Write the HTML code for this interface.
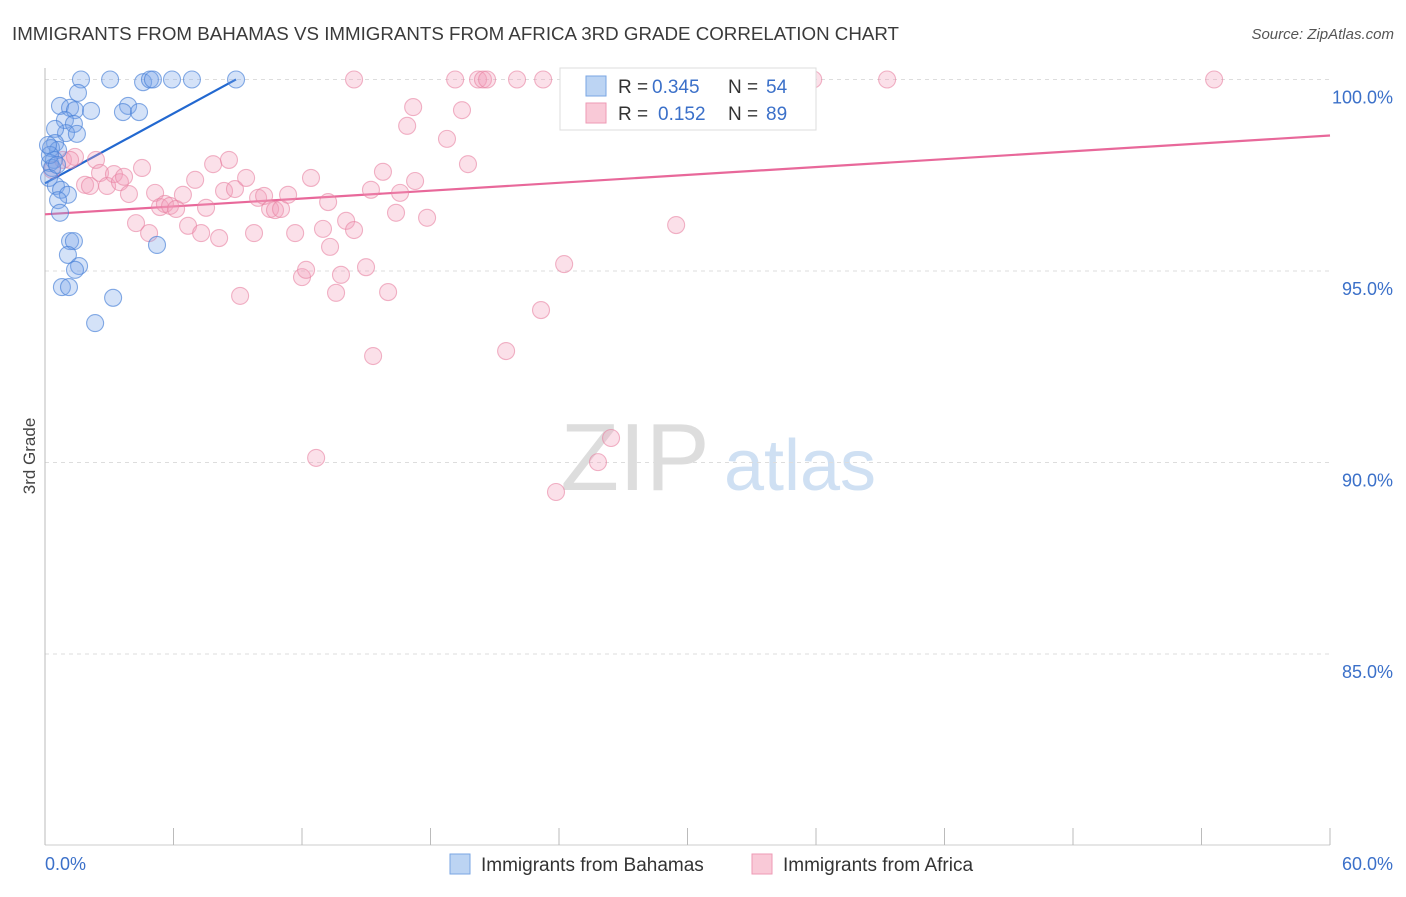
<!DOCTYPE html>
<html><head><meta charset="utf-8"><style>
body{margin:0;background:#fff;font-family:"Liberation Sans",sans-serif;}
svg text{font-family:"Liberation Sans",sans-serif;}
</style></head><body>
<svg id="chart" width="1406" height="892">
<text x="12" y="40" font-size="18" fill="#3a3a3a" textLength="887" lengthAdjust="spacingAndGlyphs">IMMIGRANTS FROM BAHAMAS VS IMMIGRANTS FROM AFRICA 3RD GRADE CORRELATION CHART</text>
<text x="1394" y="39" font-size="15" fill="#555" font-style="italic" text-anchor="end">Source: ZipAtlas.com</text>
<text x="35" y="456" font-size="17" fill="#444" text-anchor="middle" transform="rotate(-90 35 456)">3rd Grade</text>
<text x="635" y="490" font-size="96" fill="#ddd" font-family="Liberation Serif" text-anchor="middle">ZIP</text>
<text x="800" y="490" font-size="72" fill="#cfe0f3" text-anchor="middle">atlas</text>
<g id="grid"></g><g id="axes"></g><g id="lines"></g><g id="pts"></g>
<g>
<rect x="560" y="68" width="256" height="62" fill="#fff" stroke="#ddd"/>
<rect x="586" y="76" width="20" height="20" fill="#bcd4f3" stroke="#7aa6e3"/>
<text x="618" y="93" font-size="19" fill="#333">R =</text>
<text x="652" y="93" font-size="19" fill="#3b70c9">0.345</text>
<text x="728" y="93" font-size="19" fill="#333">N =</text>
<text x="766" y="93" font-size="19" fill="#3b70c9">54</text>
<rect x="586" y="103" width="20" height="20" fill="#f9c9d7" stroke="#ee9ab4"/>
<text x="618" y="120" font-size="19" fill="#333">R =</text>
<text x="658" y="120" font-size="19" fill="#3b70c9">0.152</text>
<text x="728" y="120" font-size="19" fill="#333">N =</text>
<text x="766" y="120" font-size="19" fill="#3b70c9">89</text>
</g>
<g>
<rect x="450" y="854" width="20" height="20" fill="#bcd4f3" stroke="#7aa6e3"/>
<text x="481" y="871" font-size="19" fill="#333">Immigrants from Bahamas</text>
<rect x="752" y="854" width="20" height="20" fill="#f9c9d7" stroke="#ee9ab4"/>
<text x="783" y="871" font-size="19" fill="#333">Immigrants from Africa</text>
</g>
</svg>
<script>
const yTicks=[100,95,90,85];
const yTickLabels=["100.0%","95.0%","90.0%","85.0%"];
const xTickLabels=["0.0%","60.0%"];
const blueX=[1.68,3.04,4.58,4.90,5.04,5.93,6.86,8.92,0.70,1.17,1.40,2.15,3.88,3.64,4.39,1.54,0.93,1.35,0.98,1.49,0.47,0.47,0.28,0.61,0.42,0.23,0.33,0.19,0.51,0.75,1.07,0.61,0.70,1.17,1.35,5.23,1.07,1.59,1.40,0.79,1.12,3.18,2.34,0.23,0.56,0.14];
const blueY=[100,100,99.93,100,100,100,100,100,99.31,99.26,99.2,99.18,99.31,99.15,99.15,99.65,98.94,98.84,98.6,98.58,98.71,98.34,98.21,98.16,97.9,97.82,97.69,97.43,97.22,97.12,96.99,96.85,96.52,95.78,95.78,95.68,95.42,95.13,95.03,94.58,94.58,94.3,93.64,98.03,97.77,98.29];
const pinkX=[2.38,0.33,0.84,1.40,1.17,1.87,2.10,2.57,2.90,3.22,3.50,3.69,3.92,4.25,4.53,4.86,5.14,5.37,5.60,5.84,6.12,6.44,6.68,7.01,7.29,7.52,7.85,8.13,8.36,8.59,8.87,9.11,9.39,9.76,9.95,10.23,10.51,10.74,11.02,11.35,11.68,12.00,12.19,12.42,12.98,13.22,13.31,13.59,13.82,14.06,14.43,14.99,15.22,15.32,15.78,16.02,16.39,16.58,16.91,17.19,17.28,17.84,18.77,19.15,19.47,19.75,20.22,20.45,20.64,21.53,22.04,23.16,23.26,24.24,24.66,30.59,32.83,34.18,35.87,39.32,54.59,29.47,26.43,25.82,23.86,12.66,14.43];
const pinkY=[97.9,97.64,97.9,97.98,97.9,97.25,97.22,97.56,97.22,97.53,97.32,97.46,97.01,96.25,97.69,95.99,97.04,96.67,96.75,96.70,96.62,96.99,96.18,97.38,95.99,96.65,97.79,95.86,97.09,97.9,97.14,94.35,97.43,95.99,96.91,96.96,96.62,96.59,96.62,96.99,95.99,94.84,95.03,97.43,96.1,96.8,95.63,94.43,94.9,96.31,96.07,95.1,97.12,92.78,97.59,94.45,96.52,97.04,98.79,99.28,97.35,96.39,98.45,100,99.2,97.79,100,100,100,92.91,100,93.98,100,95.18,100,100,100,100,100,100,100,96.2,90.64,90.01,89.23,90.12,100];
const blueTrend=[97.29,0.304];
const pinkTrend=[96.48,0.0343];
const blueTrendX=[0,8.92];
const pinkTrendX=[0,60];

const NS="http://www.w3.org/2000/svg";
const X=v=>45+v/60*1285;
const Y=v=>79.5+(100-v)*38.3;
function mk(tag,attrs,parent){const e=document.createElementNS(NS,tag);for(const k in attrs)e.setAttribute(k,attrs[k]);document.getElementById(parent).appendChild(e);return e;}

yTicks.forEach((t,i)=>{
  const g=mk('line',{x1:45,x2:1330,y1:Y(t),y2:Y(t),stroke:'#ddd','stroke-dasharray':'4,4'},'grid');
  
  
  const tx=mk('text',{x:1393,y:Y(t)+24,'font-size':18,fill:'#3b70c9','text-anchor':'end'},'axes');
  tx.textContent=yTickLabels[i];
  
  
});
const ax=mk('line',{x1:45,x2:45,y1:68,y2:845,stroke:'#bbb'},'axes');


const bx=mk('line',{x1:45,x2:1330,y1:845,y2:845,stroke:'#ccc'},'axes');


for(let i=0;i<=10;i++){
  const t=mk('line',{x1:X(i*6),x2:X(i*6),y1:828,y2:845,stroke:'#bbb'},'axes');
  
  
}
[[0,'start',45],[60,'end',1393]].forEach((p,i)=>{
  const tx=mk('text',{x:p[2],y:870,'font-size':18,fill:'#3b70c9','text-anchor':p[1]},'axes');
  tx.textContent=xTickLabels[i];
  
  
});
function dots(xs,ys,fill,stroke,name){
  xs.forEach((x,i)=>{
    const c=mk('circle',{cx:X(x),cy:Y(ys[i]),r:8.5,fill:fill,stroke:stroke,'stroke-width':1.1},'pts');
    
    
  });
}
dots(pinkX,pinkY,'rgba(244,160,188,0.32)','rgba(232,130,162,0.6)','point-africa');
dots(blueX,blueY,'rgba(120,166,232,0.32)','rgba(70,128,215,0.65)','point-bahamas');
function trend(tr,xr,color,name){
  const l=mk('line',{x1:X(xr[0]),y1:Y(tr[0]+tr[1]*xr[0]),x2:X(xr[1]),y2:Y(tr[0]+tr[1]*xr[1]),stroke:color,'stroke-width':2.2},'lines');
  
  
}
trend(pinkTrend,pinkTrendX,'#e8689a','trendline-africa');
trend(blueTrend,blueTrendX,'#2268d0','trendline-bahamas');
</script>
</body></html>
